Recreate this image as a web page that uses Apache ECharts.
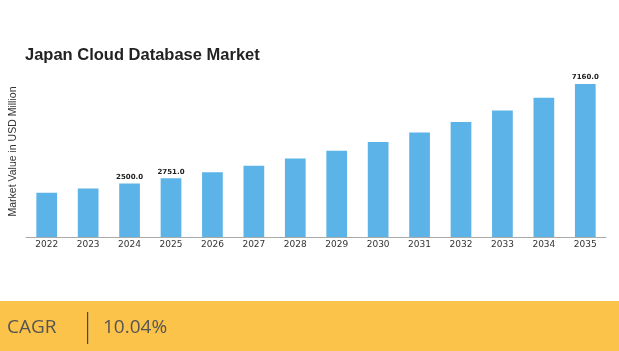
<!DOCTYPE html>
<html>
<head>
<meta charset="utf-8">
<script src="https://cdn.jsdelivr.net/npm/echarts@6/dist/echarts.min.js"></script>
<style>
  html, body { margin: 0; padding: 0; background: #fff; }
  #chart { width: 619px; height: 351px; }
</style>
</head>
<body>
<div id="chart"></div>
<script>
// values (USD million)
const years = ['2022', '2023', '2024', '2025', '2026', '2027', '2028', '2029', '2030', '2031', '2032', '2033', '2034', '2035']
const marketValues = [2066, 2273, 2500, 2751, 3030, 3330, 3670, 4030, 4450, 4890, 5380, 5920, 6510, 7160]
// only these years carry a label in the original
const labelledYears = ['2024', '2025', '2035']
const cagrText = '10.04%'

const chart = echarts.init(document.getElementById('chart'))

const option = {
  animation: false,
  title: {
    text: 'Japan Cloud Database Market',
    left: 20,
    top: 42,
    textStyle: {
      fontFamily: 'Liberation Sans, Arial, sans-serif',
      fontSize: 16.5,
      fontWeight: 'bold',
      color: '#222'
    }
  },
  grid: {
    left: 24,
    right: 13,
    top: 66,
    bottom: 114
  },
  xAxis: {
    type: 'category',
    data: years,
    axisLine: { lineStyle: { color: '#aaa', width: 1 } },
    axisTick: { show: false },
    axisLabel: {
      color: '#333',
      fontFamily: 'DejaVu Sans, sans-serif',
      fontSize: 9,
      margin: 3
    }
  },
  yAxis: {
    type: 'value',
    min: 0,
    max: 8000,
    name: 'Market Value in USD Million',
    nameLocation: 'middle',
    nameGap: 7,
    nameTextStyle: {
      color: '#333',
      fontFamily: 'Liberation Sans, Arial, sans-serif',
      fontSize: 10.5
    },
    axisLine: { show: false },
    axisTick: { show: false },
    axisLabel: { show: false },
    splitLine: { show: false }
  },
  series: [{
    type: 'bar',
    data: marketValues,
    barWidth: '50%',
    itemStyle: { color: '#5CB3E8' },
    label: {
      show: true,
      position: 'top',
      distance: 3,
      color: '#222',
      fontFamily: 'DejaVu Sans, sans-serif',
      fontSize: 7,
      fontWeight: 'bold',
      formatter: function (p) {
        return labelledYears.indexOf(p.name) >= 0 ? p.value.toFixed(1) : ''
      }
    }
  }],
  graphic: [
    {
      type: 'rect',
      left: 0,
      top: 301,
      shape: { width: 619, height: 50 },
      style: { fill: '#FCC34A' }
    },
    {
      type: 'text',
      left: 7,
      top: 318,
      style: {
        text: 'CAGR',
        fill: '#555',
        font: '19px "Open Sans", sans-serif'
      }
    },
    {
      type: 'rect',
      left: 87,
      top: 312,
      shape: { width: 1.2, height: 32 },
      style: { fill: '#1F4E79' }
    },
    {
      type: 'text',
      left: 103,
      top: 318,
      style: {
        text: cagrText,
        fill: '#555',
        font: '19px "Open Sans", sans-serif'
      }
    }
  ]
}

chart.setOption(option)
</script>
</body>
</html>
